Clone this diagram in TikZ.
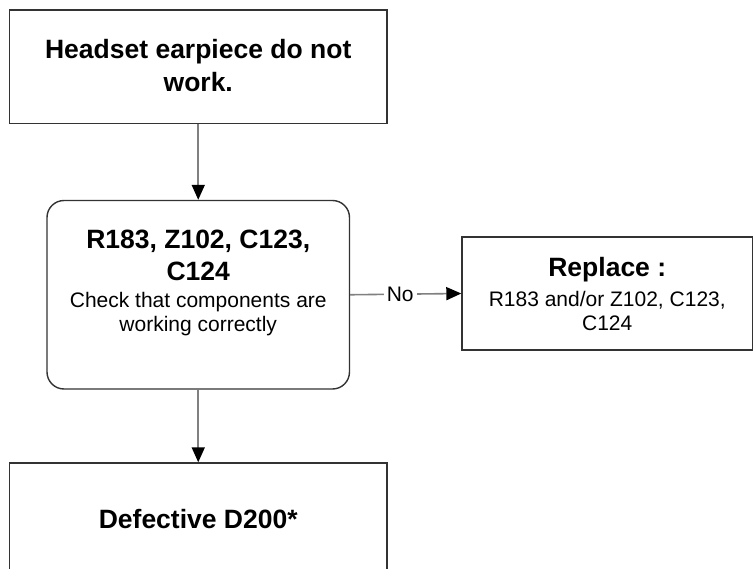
\documentclass[tikz,border=0pt]{standalone}
\usepackage{fontspec}
\setmainfont{Liberation Sans}
\usetikzlibrary{arrows.meta}

\tikzset{
  boxshape/.style={draw=black!80, line width=1.4pt, fill=white, inner sep=0pt},
  roundbox/.style={boxshape, rounded corners=17pt},
  conn/.style={draw=black!50, line width=1.6pt,
    -{Triangle[width=13pt,length=15pt,fill=black,color=black]}},
  bigtxt/.style={anchor=base, inner sep=0pt, font=\fontsize{26.5}{30}\selectfont\bfseries},
  smalltxt/.style={anchor=base, inner sep=0pt, font=\fontsize{21}{24}\selectfont},
  lbl/.style={fill=white, inner sep=3pt, text=black, font=\fontsize{21}{24}\selectfont}
}

\begin{document}
\begin{tikzpicture}[x=1pt, y=-1pt]
  \useasboundingbox (0,0) rectangle (753,569);
  \clip (0,0) rectangle (753,569);

  % boxes
  \node[boxshape, minimum width=377.5pt, minimum height=113.5pt] (top) at (198.25,66.75) {};
  \node[roundbox, minimum width=302.5pt, minimum height=188.5pt] (mid) at (198.25,294.75) {};
  \node[boxshape, minimum width=290.5pt, minimum height=113pt] (repl) at (607.25,293.5) {};
  \node[boxshape, minimum width=377.5pt, minimum height=130pt] (bot) at (198.25,528) {};

  % texts
  \node[bigtxt] (t1) at (198.25,59) {Headset earpiece do not};
  \node[bigtxt] (t2) at (198.25,92) {work.};

  \node[bigtxt] (m1) at (198.25,249) {R183, Z102, C123,};
  \node[bigtxt] (m2) at (198.25,280.5) {C124};
  \node[smalltxt] (m3) at (198.25,308) {Check that components are};
  \node[smalltxt] (m4) at (198.25,332) {working correctly};

  \node[bigtxt] (r1) at (607.25,277) {Replace :};
  \node[smalltxt] (r2) at (607.25,307) {R183 and/or Z102, C123,};
  \node[smalltxt] (r3) at (607.25,331) {C124};

  \node[bigtxt] (b1) at (198.25,528) {Defective D200*};

  % connectors
  \draw[conn] (top.south) -- (mid.north);
  \draw[conn] (mid.south) -- (bot.north);
  \draw[conn] (mid.east) -- (repl.west) node[lbl, pos=0.45] (no) {No};
\end{tikzpicture}
\end{document}
